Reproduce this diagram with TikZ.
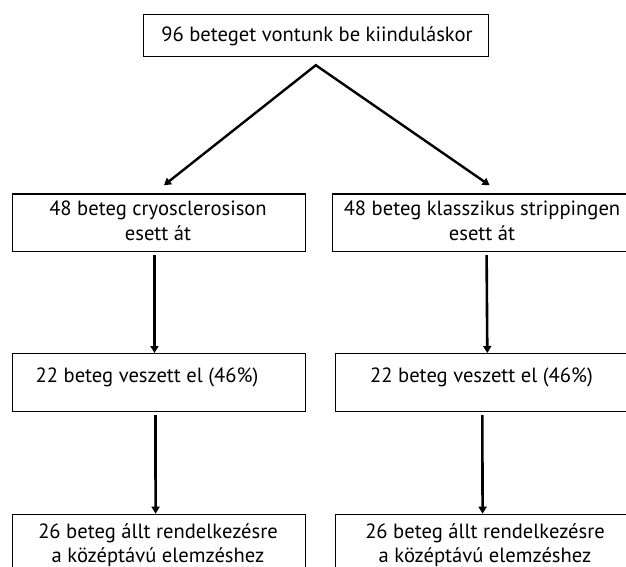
\documentclass[tikz,border=0pt]{standalone}
\usepackage{fontspec}
\setmainfont{PT Sans}
\usetikzlibrary{arrows.meta,calc}
\begin{document}
\begin{tikzpicture}[x=1pt,y=-1pt,
  box/.style={draw, line width=1.2pt, inner sep=0pt, anchor=north west},
  lbl/.style={font=\fontsize{20.6}{24}\selectfont, align=center, inner sep=0pt, anchor=base},
  arr/.style={line width=2.6pt, -{Triangle[length=7pt,width=8pt]}}]
\useasboundingbox (0,0) rectangle (626,567);
% boxes
\node[box, minimum width=345pt, minimum height=41.7pt] (top) at (142.7,14.3) {};
\node[box, minimum width=293.3pt, minimum height=57.7pt] (b2l) at (11.7,193.3) {};
\node[box, minimum width=300pt, minimum height=57.7pt] (b2r) at (332,193.3) {};
\node[box, minimum width=293.3pt, minimum height=58pt] (b3l) at (11.7,353) {};
\node[box, minimum width=297pt, minimum height=58pt] (b3r) at (334.7,353) {};
\node[box, minimum width=293pt, minimum height=60pt] (b4l) at (12,513.7) {};
\node[box, minimum width=297pt, minimum height=60pt] (b4r) at (335,513.7) {};
% texts (base anchor = baseline of the last line)
\node[lbl] (t0) at (317,41.7) {96 beteget vontunk be kiinduláskor};
\node[lbl, font=\fontsize{20.6}{25}\selectfont] (t2l) at (158,240) {48 beteg cryosclerosison\\esett át};
\node[lbl, font=\fontsize{20.6}{25}\selectfont] (t2r) at (482,240) {48 beteg klasszikus strippingen\\esett át};
\node[lbl] (t3l) at (147,382) {22 beteg veszett el (46\%)};
\node[lbl] (t3r) at (481.5,382) {22 beteg veszett el (46\%)};
\node[lbl, font=\fontsize{20.6}{23.5}\selectfont] (t4l) at (158,562) {26 beteg állt rendelkezésre\\a középtávú elemzéshez};
\node[lbl, font=\fontsize{20.6}{23.5}\selectfont] (t4r) at (485,562) {26 beteg állt rendelkezésre\\a középtávú elemzéshez};
% connectors
\coordinate (split) at ($(top.south)+(0,8)$);
\coordinate (tipl) at ($(b2l.north)+(5,-8)$);
\coordinate (tipr) at ($(b2r.north)+(7,-8)$);
\draw[line width=2.4pt, line join=miter, {Triangle[length=7pt,width=8pt]}-{Triangle[length=7pt,width=8pt]}] (tipl) -- (split) -- (tipr);
\draw[arr] ([xshift=-4.5pt,yshift=-3pt]b2l.south) -- ([xshift=-4.5pt]b3l.north);
\draw[arr] ([xshift=-3.5pt,yshift=-3pt]b3l.south) -- ([xshift=-3.5pt]b4l.north);
\draw[arr] ([xshift=4pt,yshift=-3pt]b2r.south) -- ([xshift=3.5pt]b3r.north);
\draw[arr] ([xshift=-1.5pt,yshift=-3pt]b3r.south) -- ([xshift=-1.5pt]b4r.north);
\end{tikzpicture}
\end{document}
